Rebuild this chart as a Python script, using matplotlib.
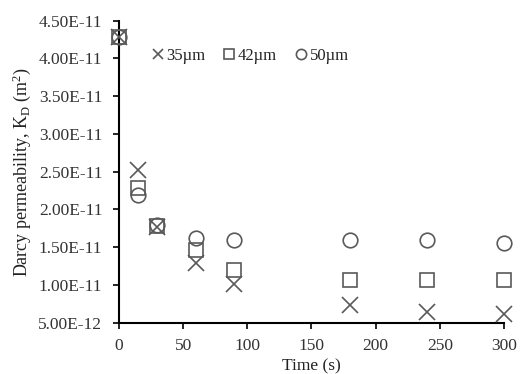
import matplotlib
matplotlib.use("Agg")
import matplotlib.pyplot as plt

time_s = [0, 15, 30, 60, 90, 180, 240, 300]
kd_35 = [4.28e-11, 2.52e-11, 1.77e-11, 1.29e-11, 1.01e-11, 7.3e-12, 6.4e-12, 6.2e-12]
kd_42 = [4.28e-11, 2.28e-11, 1.78e-11, 1.46e-11, 1.20e-11, 1.07e-11, 1.07e-11, 1.07e-11]
kd_50 = [4.28e-11, 2.19e-11, 1.79e-11, 1.62e-11, 1.60e-11, 1.60e-11, 1.59e-11, 1.56e-11]
yticks = [5e-12, 1e-11, 1.5e-11, 2e-11, 2.5e-11, 3e-11, 3.5e-11, 4e-11, 4.5e-11]
ytick_labels = ["5.00E-12", "1.00E-11", "1.50E-11", "2.00E-11", "2.50E-11",
                "3.00E-11", "3.50E-11", "4.00E-11", "4.50E-11"]
xticks = [0, 50, 100, 150, 200, 250, 300]

plt.rcParams["font.family"] = ["Liberation Serif", "DejaVu Serif"]
plt.rcParams["mathtext.fontset"] = "custom"
plt.rcParams["mathtext.rm"] = "Liberation Serif"
plt.rcParams["mathtext.it"] = "Liberation Serif"

C = "#595959"
fig = plt.figure(figsize=(5.23, 3.74), dpi=100)
ax = fig.add_axes([0.2275, 0.137, 0.736, 0.808])

ax.plot(time_s, kd_35, ls="none", marker="x", ms=11, mew=1.2, color=C, label="35\u00b5m", clip_on=False)
ax.plot(time_s, kd_42, ls="none", marker="s", ms=10, mew=1.2, mfc="none", mec=C, label="42\u00b5m", clip_on=False)
ax.plot(time_s, kd_50, ls="none", marker="o", ms=10.5, mew=1.2, mfc="none", mec=C, label="50\u00b5m", clip_on=False)

ax.set_xlim(0, 300)
ax.set_ylim(5e-12, 4.5e-11)
ax.set_xticks(xticks)
ax.set_yticks(yticks)
ax.set_yticklabels(ytick_labels)
ax.tick_params(labelsize=12.5, direction="out", length=4, width=1.2, colors="black", labelcolor="#333333")
ax.tick_params(axis="y", pad=8)
ax.tick_params(axis="x", pad=7)
for s in ("top", "right"):
    ax.spines[s].set_visible(False)
for s in ("left", "bottom"):
    ax.spines[s].set_linewidth(1.5)
    ax.spines[s].set_zorder(1)

ax.set_xlabel("Time (s)", fontsize=12.5, labelpad=3, color="#222222")
ax.set_ylabel("Darcy permeability, K$_\\mathrm{D}$ (m$^2$)", fontsize=13, labelpad=4, color="#222222")

ax.legend(loc="upper left", bbox_to_anchor=(0.262, 0.912), bbox_transform=fig.transFigure,
          ncol=3, frameon=False, fontsize=12, markerscale=0.7, handlelength=0.7,
          handletextpad=0.15, columnspacing=1.1, labelcolor="#222222")

fig.savefig("out.png", dpi=100)
